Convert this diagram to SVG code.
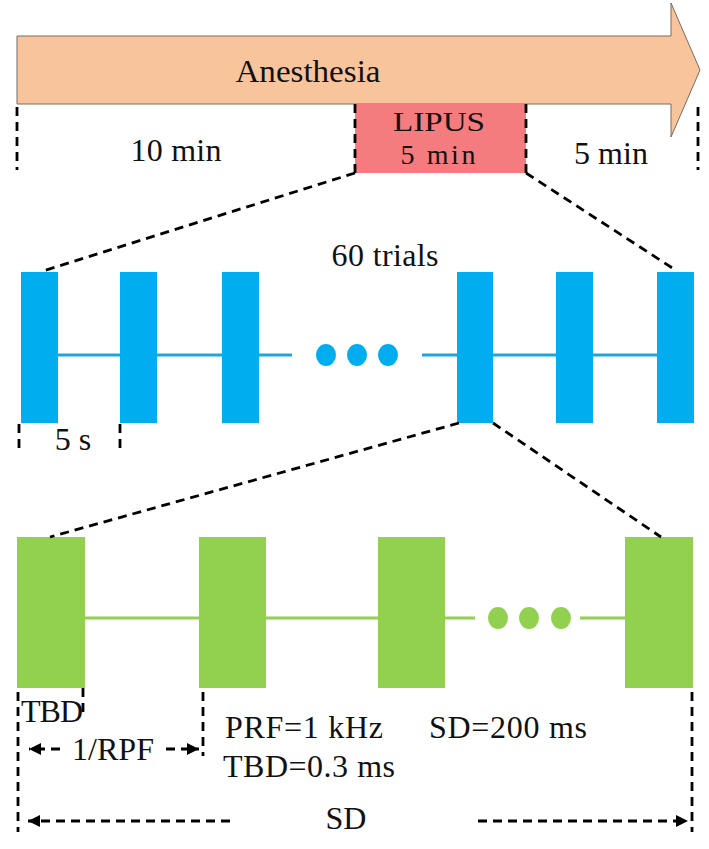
<svg xmlns="http://www.w3.org/2000/svg" width="709" height="849" viewBox="0 0 709 849">
<defs>
<style>
.t{font-family:"Liberation Serif","Times New Roman",serif;font-size:32px;fill:#111}
.s{font-size:28px}
.d{stroke:#000;stroke-width:2.8;stroke-dasharray:9 6;fill:none}
.b{fill:#00AEEF}
.g{fill:#92D050}
.bl{stroke:#1AA7DD;stroke-width:3}
.gl{stroke:#92D050;stroke-width:3}
</style>
<marker id="ah" viewBox="0 0 10 10" refX="10" refY="5" markerWidth="12" markerHeight="12" markerUnits="userSpaceOnUse" orient="auto">
<path d="M0,0 L10,5 L0,10 Z" fill="#000"/>
</marker>
</defs>
<rect width="709" height="849" fill="#fff"/>

<g id="anesthesia">
<path d="M17,36 H671 V3 L700,70 L671,137 V104 H17 Z" fill="#F8C49C" stroke="#7a6a5c" stroke-width="1"/>
<text class="t" x="308" y="82" text-anchor="middle" textLength="145" lengthAdjust="spacingAndGlyphs">Anesthesia</text>
</g>

<g id="lipus">
<rect x="355" y="104" width="171" height="69" fill="#F47B7E"/>
<text class="t s" x="439" y="131" text-anchor="middle" textLength="92" lengthAdjust="spacingAndGlyphs">LIPUS</text>
<text class="t s" x="438" y="164" text-anchor="middle" textLength="75">5 min</text>
</g>

<g id="labels-top">
<text class="t" x="176" y="161" text-anchor="middle" textLength="91">10 min</text>
<text class="t" x="611" y="164" text-anchor="middle" textLength="74">5 min</text>
<text class="t" x="385" y="266" text-anchor="middle" textLength="107">60 trials</text>
<text class="t" x="73" y="450" text-anchor="middle">5 s</text>
</g>

<g id="trials">
<line class="bl" x1="58" y1="355" x2="120" y2="355"/>
<line class="bl" x1="157" y1="355" x2="222" y2="355"/>
<line class="bl" x1="259" y1="355" x2="292" y2="355"/>
<line class="bl" x1="422" y1="355" x2="457" y2="355"/>
<line class="bl" x1="493" y1="355" x2="556" y2="355"/>
<line class="bl" x1="593" y1="355" x2="657" y2="355"/>
<rect class="b" x="21" y="272" width="37" height="151"/>
<rect class="b" x="120" y="272" width="37" height="151"/>
<rect class="b" x="222" y="272" width="37" height="151"/>
<rect class="b" x="457" y="272" width="36" height="151"/>
<rect class="b" x="556" y="272" width="37" height="151"/>
<rect class="b" x="657" y="272" width="37" height="151"/>
<ellipse class="b" cx="326" cy="355" rx="10" ry="11"/>
<ellipse class="b" cx="357" cy="355" rx="10" ry="11"/>
<ellipse class="b" cx="388" cy="355" rx="10" ry="11"/>
</g>

<g id="pulses">
<line class="gl" x1="85" y1="618" x2="199" y2="618"/>
<line class="gl" x1="266" y1="618" x2="378" y2="618"/>
<line class="gl" x1="445" y1="618" x2="475" y2="618"/>
<line class="gl" x1="580" y1="618" x2="625" y2="618"/>
<rect class="g" x="17" y="537" width="68" height="151"/>
<rect class="g" x="199" y="537" width="67" height="151"/>
<rect class="g" x="378" y="537" width="67" height="151"/>
<rect class="g" x="625" y="537" width="68" height="151"/>
<ellipse class="g" cx="498" cy="618" rx="10" ry="11"/>
<ellipse class="g" cx="529" cy="618" rx="10" ry="11"/>
<ellipse class="g" cx="561" cy="618" rx="10" ry="11"/>
</g>

<g id="labels-bottom">
<text class="t" x="21" y="722" textLength="62">TBD</text>
<text class="t" x="72" y="760" textLength="82">1/RPF</text>
<text class="t" x="225" y="738" textLength="158">PRF=1 kHz</text>
<text class="t" x="223" y="777" textLength="172">TBD=0.3 ms</text>
<text class="t" x="429" y="738" textLength="158">SD=200 ms</text>
<text class="t" x="346" y="829" text-anchor="middle">SD</text>
</g>

<g id="connectors">
<line class="d" x1="17" y1="107" x2="17" y2="170"/>
<line class="d" x1="698" y1="107" x2="698" y2="170"/>
<line class="d" x1="355" y1="104" x2="355" y2="173"/>
<line class="d" x1="526" y1="104" x2="526" y2="173"/>
<line class="d" x1="355" y1="173" x2="43" y2="271"/>
<line class="d" x1="526" y1="173" x2="677" y2="271"/>
<line class="d" x1="19" y1="424" x2="19" y2="450"/>
<line class="d" x1="120" y1="424" x2="120" y2="450"/>
<line class="d" x1="459" y1="423" x2="50" y2="537"/>
<line class="d" x1="493" y1="423" x2="661" y2="537"/>
<line class="d" x1="18" y1="692" x2="18" y2="832"/>
<line class="d" x1="83" y1="688" x2="83" y2="718"/>
<line class="d" x1="203" y1="692" x2="203" y2="756"/>
<line class="d" x1="692" y1="692" x2="692" y2="832"/>
<line class="d" x1="60" y1="749" x2="29" y2="749" marker-end="url(#ah)"/>
<line class="d" x1="166" y1="749" x2="199" y2="749" marker-end="url(#ah)"/>
<line class="d" x1="230" y1="821" x2="28" y2="821" marker-end="url(#ah)"/>
<line class="d" x1="478" y1="821" x2="688" y2="821" marker-end="url(#ah)"/>
</g>
</svg>
